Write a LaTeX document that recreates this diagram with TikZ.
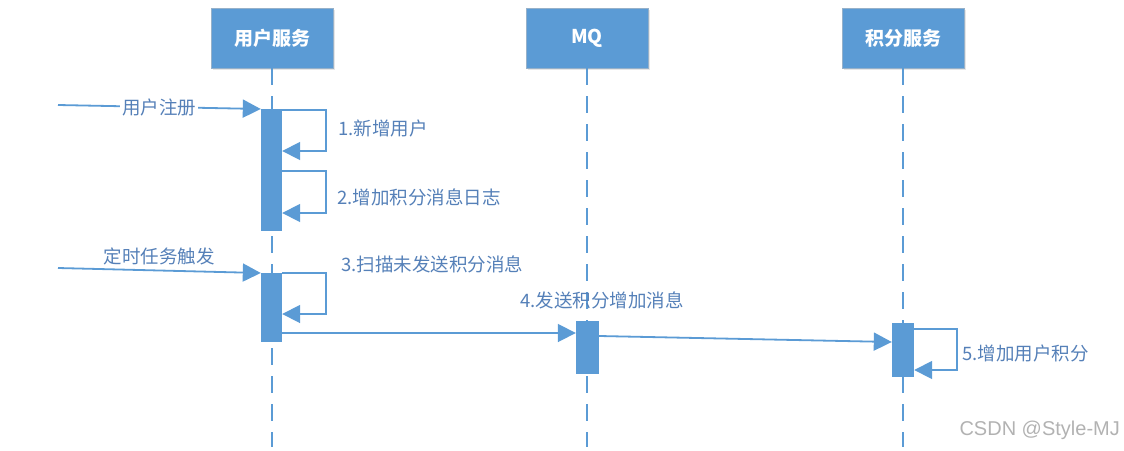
\documentclass[tikz,border=0pt]{standalone}
\usepackage{fontspec}
\setmainfont{Noto Sans CJK SC}
\newfontfamily\wmfont{Liberation Sans}
\usetikzlibrary{arrows.meta,calc,shadows}
\definecolor{seqblue}{HTML}{5B9BD5}
\definecolor{seqtext}{HTML}{5580B8}

\begin{document}
\begin{tikzpicture}[x=1pt,y=-1pt,>={Triangle[length=18pt,width=18pt]},
  lifehead/.style={rectangle,fill=seqblue,draw=seqblue!60!gray!70,line width=0.8pt,
    minimum width=122pt,minimum height=60pt,text=white,
    font=\fontsize{19}{22}\selectfont\bfseries,
    drop shadow={opacity=0.2,shadow xshift=1.5pt,shadow yshift=-1.5pt}},
  lifeline/.style={seqblue,line width=2.4pt,dash pattern=on 17pt off 11pt},
  actbar/.style={rectangle,fill=seqblue,inner sep=0pt,minimum width=21pt,
    minimum height=#1,anchor=north},
  msg/.style={seqblue,line width=1.8pt,->},
  lbl/.style={text=seqtext,font=\fontsize{18.5}{21}\selectfont,inner sep=1pt}]
\useasboundingbox (0,0) rectangle (1124,450);
% lifeline heads
\node[lifehead] (usr) at (272,38) {用户服务};
\node[lifehead] (mq) at (587,38) {MQ};
\node[lifehead] (pts) at (903,38) {积分服务};
% dashed lifelines
\coordinate (usrend) at (272,447);
\coordinate (mqend) at (587,447);
\coordinate (ptsend) at (903,447);
\draw[lifeline] (usr.south) -- (usrend);
\draw[lifeline] (mq.south) -- (mqend);
\draw[lifeline] (pts.south) -- (ptsend);
% activation bars
\node[actbar=122pt] (ub1) at (271.5,109) {};
\node[actbar=69pt] (ub2) at (271.5,273) {};
\node[actbar=53pt,minimum width=23pt] (mqb) at (587.5,321) {};
\node[actbar=54pt,minimum width=22pt] (ptb) at (903,323) {};
% user registers
\coordinate (reg) at (58,105);
\draw[msg] (reg) -- (ub1.north west)
  node[midway,lbl,fill=white,inner sep=2pt] (lreg) {用户注册};
% self calls 1 and 2
\draw[msg] ($(ub1.north east)+(0,1)$) -- ++(44,0) |- ($(ub1.north east)+(0,42)$);
\draw[msg] ($(ub1.north east)+(0,62)$) -- ++(44,0) |- ($(ub1.north east)+(0,104)$);
\node[lbl,anchor=west] (l1) at (337,128) {1.新增用户};
\node[lbl,anchor=west] (l2) at (336,197) {2.增加积分消息日志};
% scheduled job
\coordinate (timer) at (58,268);
\draw[msg] (timer) -- (ub2.north west)
  node[midway,lbl,above=4pt] (ltimer) {定时任务触发};
\draw[msg] (ub2.north east) -- ++(44,0) |- ($(ub2.north east)+(0,41)$);
\node[lbl,anchor=west] (l3) at (340,264) {3.扫描未发送积分消息};
% send to MQ, MQ to points service
\draw[msg] ($(ub2.north east)+(0,60)$) -- ($(mqb.north west)+(0,12)$);
\node[lbl,anchor=west] (l4) at (519,300) {4.发送积分增加消息};
\draw[msg] ($(mqb.north east)+(0,15)$) -- ($(ptb.north west)+(0,19)$);
\draw[msg] ($(ptb.north east)+(0,6)$) -- ++(43,0) |- ($(ptb.north east)+(0,47)$);
\node[lbl,anchor=west] (l5) at (961,353) {5.增加用户积分};
% watermark
\node[anchor=west,text=gray!60,font=\wmfont\fontsize{20}{24}\selectfont] (wm) at (956,430) {CSDN @Style-MJ};
\end{tikzpicture}
\end{document}
